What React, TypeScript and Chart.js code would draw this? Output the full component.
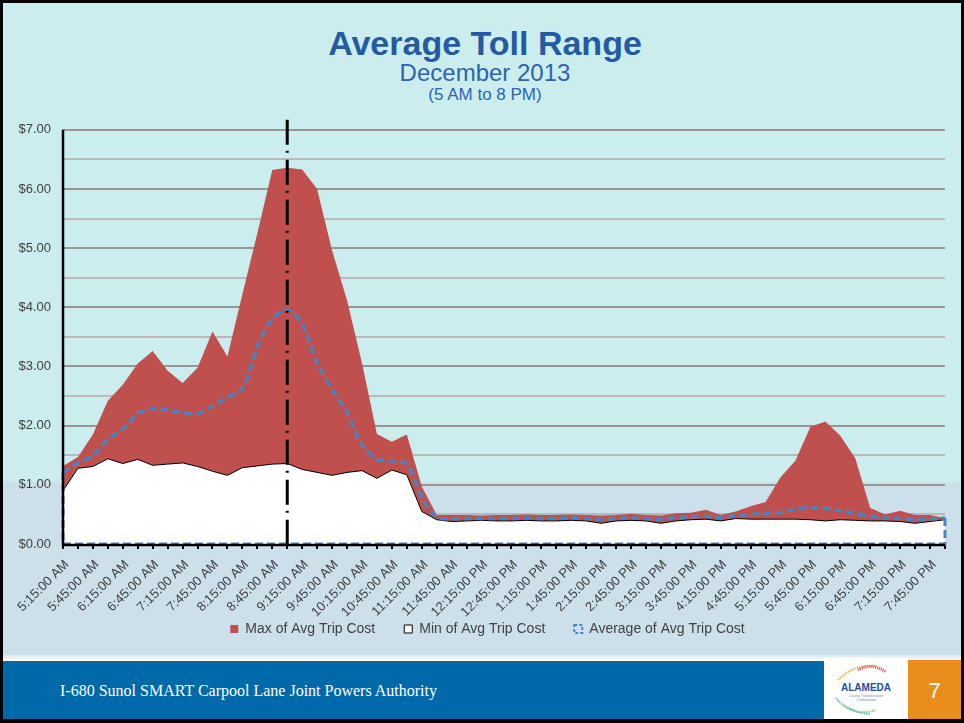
import React, { useEffect, useRef } from "react";
import { Chart, registerables } from "chart.js";

Chart.register(...registerables);

const TIME_LABELS = [
  "5:15:00 AM", "5:30:00 AM", "5:45:00 AM", "6:00:00 AM", "6:15:00 AM", "6:30:00 AM",
  "6:45:00 AM", "7:00:00 AM", "7:15:00 AM", "7:30:00 AM", "7:45:00 AM", "8:00:00 AM",
  "8:15:00 AM", "8:30:00 AM", "8:45:00 AM", "9:00:00 AM", "9:15:00 AM", "9:30:00 AM",
  "9:45:00 AM", "10:00:00 AM", "10:15:00 AM", "10:30:00 AM", "10:45:00 AM", "11:00:00 AM",
  "11:15:00 AM", "11:30:00 AM", "11:45:00 AM", "12:00:00 PM", "12:15:00 PM", "12:30:00 PM",
  "12:45:00 PM", "1:00:00 PM", "1:15:00 PM", "1:30:00 PM", "1:45:00 PM", "2:00:00 PM",
  "2:15:00 PM", "2:30:00 PM", "2:45:00 PM", "3:00:00 PM", "3:15:00 PM", "3:30:00 PM",
  "3:45:00 PM", "4:00:00 PM", "4:15:00 PM", "4:30:00 PM", "4:45:00 PM", "5:00:00 PM",
  "5:15:00 PM", "5:30:00 PM", "5:45:00 PM", "6:00:00 PM", "6:15:00 PM", "6:30:00 PM",
  "6:45:00 PM", "7:00:00 PM", "7:15:00 PM", "7:30:00 PM", "7:45:00 PM", "8:00:00 PM",
];

const MAX_COST = [
  1.32, 1.47, 1.85, 2.42, 2.69, 3.05, 3.26, 2.93, 2.72, 2.98,
  3.59, 3.17, 4.22, 5.25, 6.32, 6.36, 6.33, 6.0, 4.96, 4.12,
  3.06, 1.86, 1.73, 1.85, 0.97, 0.49, 0.49, 0.49, 0.48, 0.49,
  0.49, 0.5, 0.49, 0.49, 0.5, 0.49, 0.48, 0.49, 0.51, 0.49,
  0.48, 0.52, 0.53, 0.58, 0.49, 0.55, 0.64, 0.71, 1.13, 1.41,
  1.98, 2.07, 1.83, 1.45, 0.61, 0.5, 0.56, 0.49, 0.49, 0.44,
];

const MIN_COST = [
  0.9, 1.28, 1.31, 1.44, 1.36, 1.43, 1.33, 1.35, 1.37, 1.31,
  1.23, 1.16, 1.29, 1.32, 1.35, 1.36, 1.26, 1.21, 1.16, 1.21,
  1.24, 1.11, 1.25, 1.17, 0.55, 0.41, 0.38, 0.39, 0.4, 0.39,
  0.39, 0.4, 0.39, 0.39, 0.4, 0.39, 0.35, 0.39, 0.4, 0.39,
  0.35, 0.39, 0.41, 0.42, 0.39, 0.43, 0.42, 0.42, 0.42, 0.42,
  0.41, 0.39, 0.41, 0.4, 0.39, 0.39, 0.38, 0.35, 0.38, 0.41,
];

const AVG_COST = [
  1.21, 1.37, 1.49, 1.77, 1.94, 2.2, 2.29, 2.26, 2.22, 2.2,
  2.33, 2.48, 2.63, 3.33, 3.8, 3.96, 3.73, 3.06, 2.61, 2.22,
  1.68, 1.43, 1.4, 1.35, 0.79, 0.45, 0.43, 0.43, 0.43, 0.43,
  0.43, 0.44, 0.43, 0.43, 0.44, 0.43, 0.42, 0.43, 0.44, 0.43,
  0.42, 0.45, 0.46, 0.47, 0.44, 0.48, 0.5, 0.52, 0.53, 0.59,
  0.61, 0.6, 0.56, 0.52, 0.47, 0.44, 0.43, 0.41, 0.42, 0.44,
];

const SERIES_NAMES = ["Max of Avg Trip Cost", "Min of Avg Trip Cost", "Average of Avg Trip Cost"];
const MARKER_LABEL = "9:00:00 AM";
const Y_MIN = 0;
const Y_MAX = 7;
const Y_STEP = 0.5;

const RED = "#C0504D";
const BLUE = "#4F81BD";
const TEXT = "#404040";
const FONT = "'Liberation Sans', Arial, sans-serif";

const overlayPlugin = {
  id: "overlay",
  afterDatasetsDraw(chart: any) {
    const { ctx, chartArea, scales } = chart;
    const xs = scales.x;
    const ys = scales.y;
    const y0 = ys.getPixelForValue(0);
    const pts = chart.getDatasetMeta(2).data;
    const first = pts[0];
    const last = pts[pts.length - 1];
    ctx.save();
    // closing outline of the average series
    ctx.strokeStyle = BLUE;
    ctx.lineWidth = 3;
    ctx.setLineDash([8, 4]);
    ctx.beginPath();
    ctx.moveTo(last.x, last.y);
    ctx.lineTo(last.x, y0);
    ctx.lineTo(first.x, y0);
    ctx.lineTo(first.x, first.y);
    ctx.stroke();
    // dash-dot marker
    const mx = xs.getPixelForValue(TIME_LABELS.indexOf(MARKER_LABEL));
    ctx.strokeStyle = "#000";
    ctx.lineWidth = 3;
    ctx.setLineDash([25, 6, 2, 7]);
    ctx.beginPath();
    ctx.moveTo(mx, chartArea.top - 10);
    ctx.lineTo(mx, y0);
    ctx.stroke();
    // axes lines
    ctx.setLineDash([]);
    ctx.lineWidth = 2.5;
    ctx.beginPath();
    ctx.moveTo(chartArea.left, chartArea.top);
    ctx.lineTo(chartArea.left, y0 + 1);
    ctx.lineTo(chartArea.right, y0 + 1);
    ctx.stroke();
    ctx.restore();
  },
};

function TollChart() {
  const ref = useRef<HTMLCanvasElement | null>(null);
  useEffect(() => {
    if (!ref.current) return;
    const chart = new Chart(ref.current, {
      type: "line",
      data: {
        labels: TIME_LABELS,
        datasets: [
          {
            label: SERIES_NAMES[0],
            data: MAX_COST,
            backgroundColor: RED,
            borderColor: RED,
            borderWidth: 0,
            fill: "origin",
            pointRadius: 0,
            tension: 0,
            order: 3,
          },
          {
            label: SERIES_NAMES[1],
            data: MIN_COST,
            backgroundColor: "#FFFFFF",
            borderColor: "#000000",
            borderWidth: 1,
            fill: "origin",
            pointRadius: 0,
            tension: 0,
            order: 2,
          },
          {
            label: SERIES_NAMES[2],
            data: AVG_COST,
            backgroundColor: "rgba(0,0,0,0)",
            borderColor: BLUE,
            borderWidth: 3.5,
            borderDash: [8, 4],
            fill: false,
            pointRadius: 0,
            tension: 0.3,
            order: 1,
          },
        ],
      },
      options: {
        responsive: false,
        animation: false,
        devicePixelRatio: 1,
        layout: { padding: { left: 30, right: 19, top: 19, bottom: 0 } },
        plugins: {
          title: { display: false },
          tooltip: { enabled: false },
          legend: {
            position: "bottom",
            labels: {
              font: { family: FONT, size: 14 },
              color: TEXT,
              boxWidth: 8,
              boxHeight: 8,
              padding: 29,
              generateLabels: () => [
                { text: SERIES_NAMES[0], fillStyle: RED, strokeStyle: RED, lineWidth: 0, datasetIndex: 0, fontColor: TEXT },
                { text: SERIES_NAMES[1], fillStyle: "#FFFFFF", strokeStyle: "#000000", lineWidth: 1, datasetIndex: 1, fontColor: TEXT },
                { text: SERIES_NAMES[2], fillStyle: "rgba(0,0,0,0)", strokeStyle: BLUE, lineWidth: 2, lineDash: [3, 2], datasetIndex: 2, fontColor: TEXT },
              ],
            },
          },
        },
        scales: {
          x: {
            type: "category",
            offset: false,
            border: { display: false },
            grid: {
              display: true,
              drawOnChartArea: false,
              drawTicks: true,
              tickLength: 5,
              color: "#000000",
              lineWidth: 2,
            },
            ticks: {
              autoSkip: false,
              minRotation: 45,
              maxRotation: 45,
              padding: 8,
              labelOffset: 4,
              color: TEXT,
              font: { family: FONT, size: 13 },
              callback: (_v: any, i: number) => (i % 2 === 0 ? TIME_LABELS[i] : ""),
            },
            afterFit: (s: any) => {
              s.height = 49;
              s._computeLabelArea = () => null;
            },
          },
          y: {
            min: Y_MIN,
            max: Y_MAX,
            border: { display: false },
            grid: {
              drawTicks: false,
              lineWidth: 2,
              color: (c: any) =>
                c.tick.value === 0 ? "rgba(0,0,0,0)" : Number.isInteger(c.tick.value) ? "#969696" : "#B9B9B9",
            },
            ticks: {
              stepSize: Y_STEP,
              padding: 12,
              color: TEXT,
              font: { family: FONT, size: 13 },
              callback: (v: any) => (Number.isInteger(v) ? "$" + Number(v).toFixed(2) : ""),
            },
            afterFit: (s: any) => {
              s.width = 33;
              s._computeLabelArea = () => null;
            },
          },
        },
      },
      plugins: [overlayPlugin],
    } as any);
    return () => chart.destroy();
  }, []);
  return (
    <canvas
      ref={ref}
      width={964}
      height={536}
      style={{ position: "absolute", left: 0, top: 110, width: 964, height: 536 }}
    />
  );
}

function Logo() {
  return (
    <svg width="84" height="61" viewBox="0 0 84 61" style={{ position: "absolute", left: 0, top: 0 }}>
      <path d="M14 22 Q30 6 52 8" stroke="#E9B44C" strokeWidth="2" fill="none" strokeDasharray="1.5 1" />
      <path d="M34 12 Q48 4 62 14" stroke="#D9455F" strokeWidth="3" fill="none" strokeDasharray="1 1" />
      <path d="M12 40 Q22 54 46 56" stroke="#5FB7C9" strokeWidth="2" fill="none" strokeDasharray="1.5 1" />
      <path d="M20 47 Q34 58 52 52" stroke="#7BBF6A" strokeWidth="2" fill="none" strokeDasharray="1 1" />
      <text x="42" y="33" textAnchor="middle" fontFamily={FONT} fontWeight="bold" fontSize="10" fill="#1E4E9C">
        ALAMEDA
      </text>
      <text x="42" y="39" textAnchor="middle" fontFamily={FONT} fontSize="3.5" fill="#6A88B8">
        County Transportation
      </text>
      <text x="42" y="43" textAnchor="middle" fontFamily={FONT} fontSize="3.5" fill="#6A88B8">
        Commission
      </text>
    </svg>
  );
}

export default function App() {
  return (
    <div style={{ position: "fixed", left: 0, top: 0, width: 964, height: 723, background: "#000", overflow: "hidden" }}>
      <div style={{ position: "absolute", left: 3, top: 3, width: 958, height: 716, background: "#CBEDEE" }} />
      <div style={{ position: "absolute", left: 3, top: 482, width: 958, height: 176, background: "#CCE0EC" }} />
      <div
        style={{
          position: "absolute",
          left: 3,
          top: 655,
          width: 958,
          height: 6,
          background: "linear-gradient(#DDE9F2, #FFFFFF)",
        }}
      />
      <div style={{ position: "absolute", left: 3, top: 661, width: 821, height: 58, background: "#0069AA" }} />
      <div style={{ position: "absolute", left: 824, top: 658, width: 84, height: 61, background: "#FFFFFF" }}>
        <Logo />
      </div>
      <div style={{ position: "absolute", left: 908, top: 660, width: 53, height: 59, background: "#E98E1C" }} />
      <div
        style={{
          position: "absolute",
          left: 908,
          top: 680,
          width: 53,
          textAlign: "center",
          color: "#FFFFFF",
          font: `22px ${FONT}`,
          lineHeight: "22px",
        }}
      >
        7
      </div>
      <div
        style={{
          position: "absolute",
          left: 60,
          top: 683,
          color: "#FFFFFF",
          font: "16px 'Liberation Serif', 'Times New Roman', serif",
          lineHeight: "16px",
          whiteSpace: "nowrap",
        }}
      >
        I-680 Sunol SMART Carpool Lane Joint Powers Authority
      </div>
      <div
        style={{
          position: "absolute",
          left: 3,
          top: 26,
          width: 964,
          textAlign: "center",
          color: "#2459A4",
          font: `bold 34px ${FONT}`,
          lineHeight: "34px",
        }}
      >
        Average Toll Range
      </div>
      <div
        style={{
          position: "absolute",
          left: 3,
          top: 61,
          width: 964,
          textAlign: "center",
          color: "#2F63AE",
          font: `24px ${FONT}`,
          lineHeight: "24px",
        }}
      >
        December 2013
      </div>
      <div
        style={{
          position: "absolute",
          left: 3,
          top: 86,
          width: 964,
          textAlign: "center",
          color: "#2F63AE",
          font: `17px ${FONT}`,
          lineHeight: "17px",
        }}
      >
        (5 AM to 8 PM)
      </div>
      <TollChart />
    </div>
  );
}
